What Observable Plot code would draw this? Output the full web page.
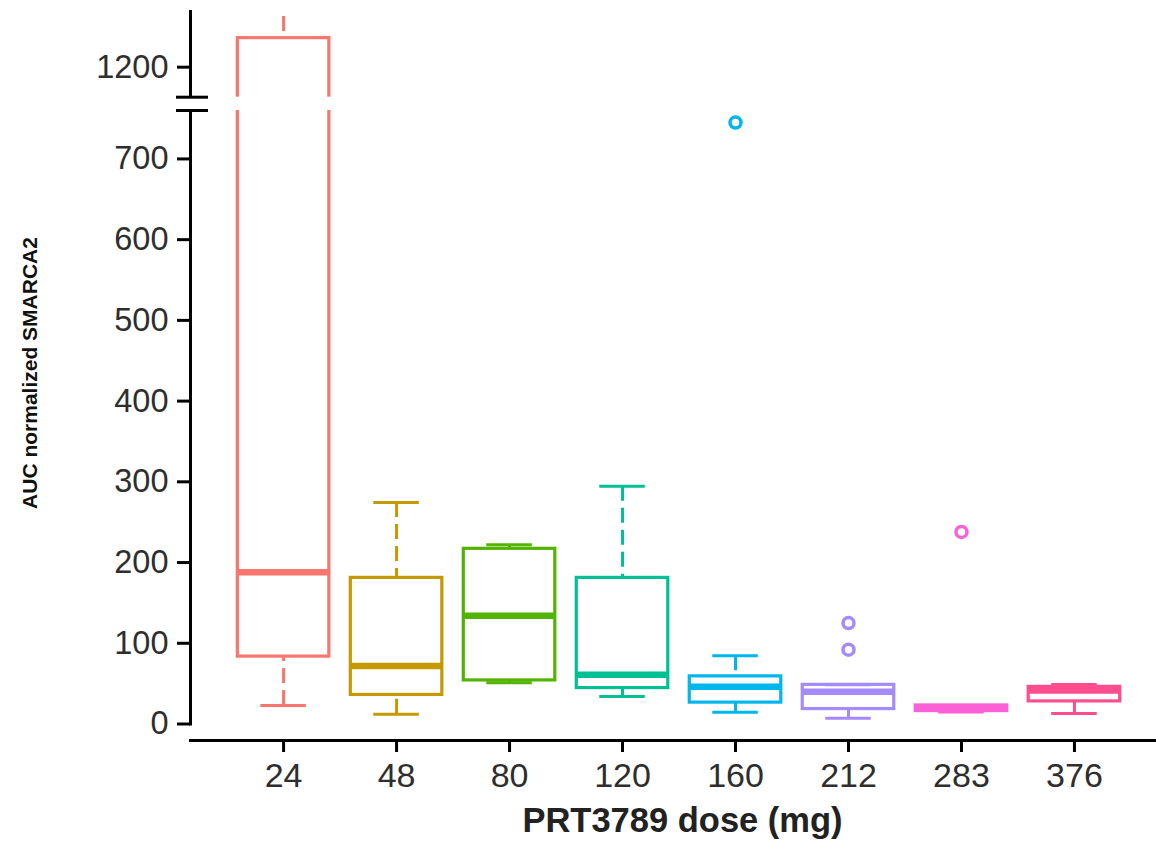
<!DOCTYPE html>
<html>
<head>
<meta charset="utf-8">
<script src="https://cdn.jsdelivr.net/npm/d3@7"></script>
<script src="https://cdn.jsdelivr.net/npm/@observablehq/plot@0.6"></script>
<style>
  html, body { margin: 0; padding: 0; background: #fff; }
  #chart svg { display: block; }
</style>
</head>
<body>
<div id="chart"></div>
<script>
// ---- data ----
const doses = ["24", "48", "80", "120", "160", "212", "283", "376"];
const colors = ["#F8766D", "#C49A00", "#53B400", "#00C094", "#00B6EB", "#A58AFF", "#FB61D7", "#FF4D8D"];
const lowerWhisker = [23, 12, 51, 34, 14.5, 7, 15, 13];
const q1 = [83.5, 36, 54, 44.5, 26.5, 18.5, 16, 28];
const median = [188, 72, 134, 61, 46, 40, 19, 41.5];
const q3 = [1236, 181, 217, 181, 59, 48.5, 23, 46];
const upperWhisker = [1290, 274.5, 222, 294.5, 84.5, 48.5, 23, 49];
const outlierDose = ["160", "212", "212", "283"];
const outlierValue = [745, 125, 92, 238];
// broken y axis: lower segment ends at breakLow, upper segment starts at breakHigh
const breakLow = 760;
const breakHigh = 1162.8;
const yTop = 1269;
const yTicks = [0, 100, 200, 300, 400, 500, 600, 700, 1200];

const rows = doses.map((d, i) => ({
  dose: d, lo: lowerWhisker[i], q1: q1[i], med: median[i], q3: q3[i], hi: upperWhisker[i]
}));
const outliers = outlierDose.map((d, i) => ({dose: d, value: outlierValue[i]}));

const W = 1156, H = 844;
const mL = 190, mR = 0, mT = 11, mB = 104;
const frameW = W - mL - mR;

const chart = Plot.plot({
  width: W,
  height: H,
  marginLeft: mL,
  marginRight: mR,
  marginTop: mT,
  marginBottom: mB,
  style: {fontFamily: "'Liberation Sans', Arial, Helvetica, sans-serif", background: "#fff"},
  x: {type: "band", domain: doses, paddingInner: 0.19, paddingOuter: 0.37, align: 0.566, round: false, label: null},
  y: {type: "linear", domain: [0, breakLow, breakHigh, yTop], range: [723.5, 110, 96.7, 11], label: null},
  color: {type: "ordinal", domain: doses, range: colors},
  marks: [
    // whiskers (dashed, drawn from the whisker end toward the box)
    Plot.ruleX(rows, {x: "dose", y1: "hi", y2: "q3", stroke: "dose", strokeWidth: 3, strokeDasharray: "15,7", clip: true}),
    Plot.ruleX(rows, {x: "dose", y1: "lo", y2: "q1", stroke: "dose", strokeWidth: 3, strokeDasharray: "15,7"}),
    // boxes
    Plot.barY(rows, {x: "dose", y1: "q1", y2: "q3", fill: "white", stroke: "dose", strokeWidth: 3.2}),
    // medians
    Plot.tickY(rows, {x: "dose", y: "med", stroke: "dose", strokeWidth: 6.5}),
    // whisker caps
    Plot.tickY(rows, {x: "dose", y: "hi", stroke: "dose", strokeWidth: 3, insetLeft: 23, insetRight: 23, clip: true}),
    Plot.tickY(rows, {x: "dose", y: "lo", stroke: "dose", strokeWidth: 3, insetLeft: 23, insetRight: 23}),
    // outliers
    Plot.dot(outliers, {x: "dose", y: "value", stroke: "dose", fill: "white", r: 5.5, strokeWidth: 3.5}),
    // axis lines
    Plot.frame({anchor: "left", stroke: "black", strokeWidth: 3, insetBottom: 740 - 723.5}),
    Plot.frame({anchor: "bottom", stroke: "black", strokeWidth: 3}),
    // axis break gap
    Plot.rectY([0], {y1: breakLow, y2: breakHigh, fill: "white", insetLeft: -6}),
    Plot.ruleY([breakLow, breakHigh], {stroke: "black", strokeWidth: 3, insetLeft: -14, insetRight: frameW - 18}),
    // axes
    Plot.axisY({ticks: yTicks, tickFormat: d => String(d), tickSize: 13, tickPadding: 9, fontSize: 32.5,
      stroke: "black", strokeWidth: 3, fill: "#2e2e2e", label: null}),
    Plot.axisX({tickSize: 12, tickPadding: 10, fontSize: 34, stroke: "black", strokeWidth: 3,
      fill: "#2e2e2e", label: null}),
    // axis titles
    Plot.text(["PRT3789 dose (mg)"], {frameAnchor: "bottom", dx: 9, dy: 91, fontSize: 34.5,
      fontWeight: "bold", fill: "#222"}),
    Plot.text(["AUC normalized SMARCA2"], {frameAnchor: "left", textAnchor: "middle", rotate: -90, dx: -160, dy: -3,
      fontSize: 21, fontWeight: "bold", fill: "#111"})
  ]
});
document.getElementById("chart").appendChild(chart);
</script>
</body>
</html>
